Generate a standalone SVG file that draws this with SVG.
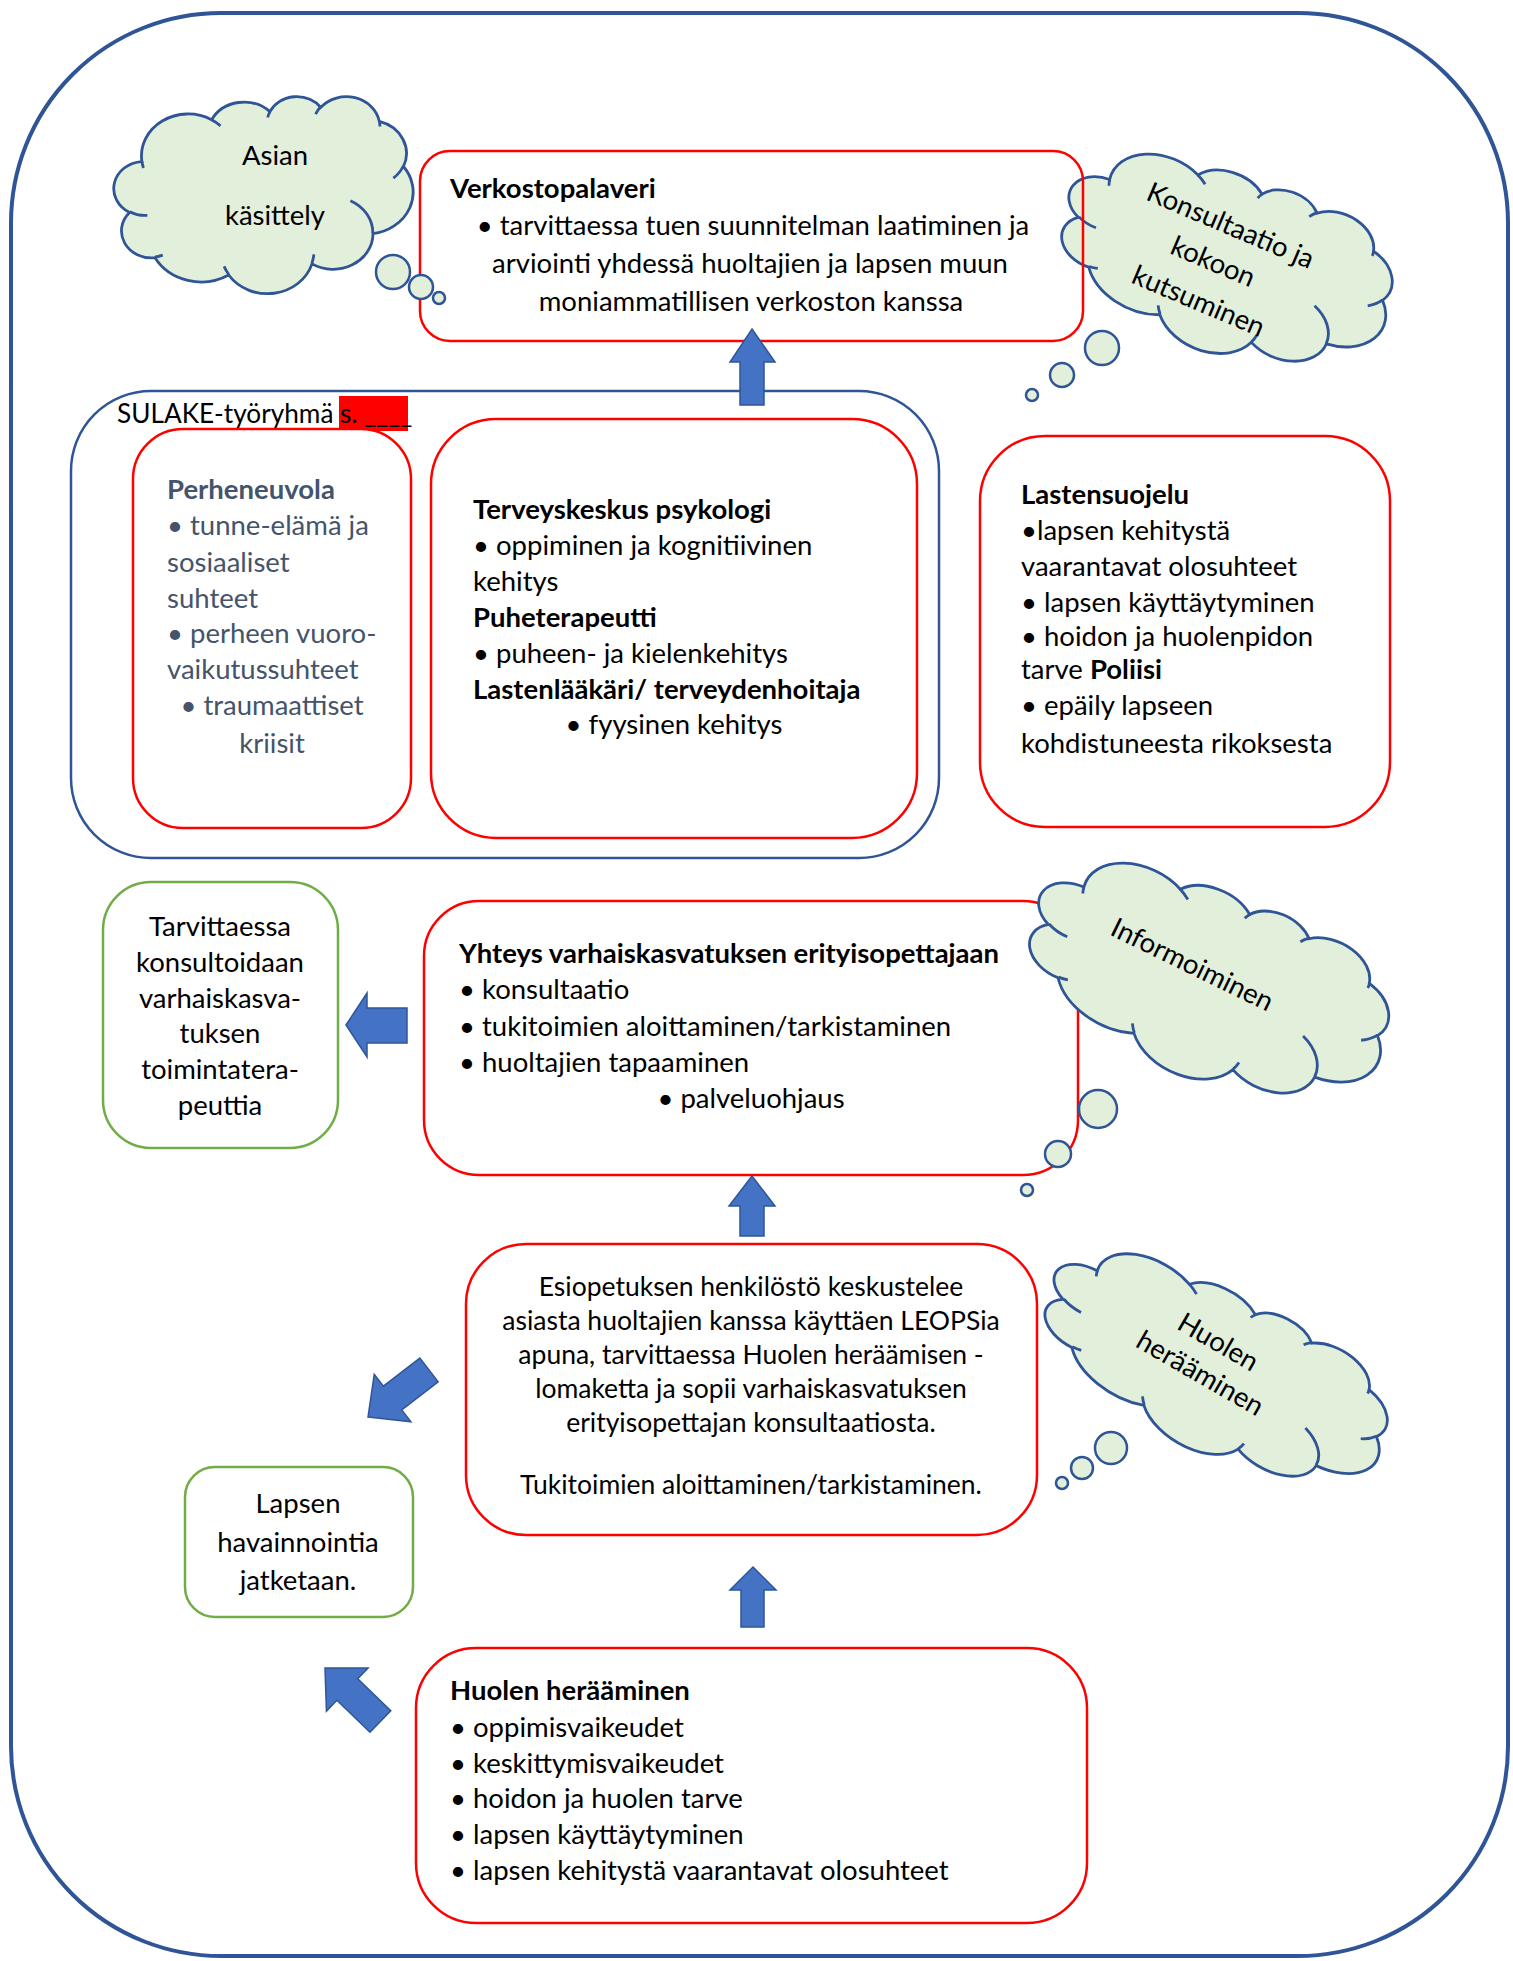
<svg xmlns="http://www.w3.org/2000/svg" width="1513" height="1961" viewBox="0 0 1513 1961">
<style>
.frame{fill:none;stroke:#2F5597;stroke-width:4}
.grp{fill:none;stroke:#2F5597;stroke-width:2.5}
.red{fill:#fff;stroke:#FF0000;stroke-width:2.5}
.redn{fill:none;stroke:#FF0000;stroke-width:2.5}
.green{fill:#fff;stroke:#70AD47;stroke-width:2.5}
.cloud{fill:#E2EFDA;stroke:#2F5597;stroke-width:2.8;vector-effect:non-scaling-stroke}
.crease{fill:none;stroke:#2F5597;stroke-width:2.8;vector-effect:non-scaling-stroke}
.bub{fill:#E2EFDA;stroke:#2F5597;stroke-width:2.5}
.arr{fill:#4472C4;stroke:#2F5597;stroke-width:1.5}
text{font-family:Lato,"Noto Sans",sans-serif;font-size:27.5px;fill:#000}
.b{font-weight:bold}
.m{text-anchor:middle}
.s{fill:#44546A}
.lbl{font-size:26.2px}
.es{font-size:26.5px}
</style>
<defs>
<path id="cl" class="cloud" d="M39,143.7 A67.53,91.9 0 0 1 140.05,52.01 A53.33,72.67 0 0 1 224.56,34.31 A43.65,59.45 0 0 1 298.33,24.8 A48.57,65.95 0 0 1 383.19,55.73 A53.33,72.73 0 0 1 418.19,154.56 A67.75,92.2 0 0 1 374.05,302 A57.85,78.67 0 0 1 285.56,368.1 A67.52,92.15 0 0 1 164.81,392.62 A77.2,105.43 0 0 1 58.04,354.67 A43.6,59.18 0 0 1 21.13,255.45 A43.45,59.45 0 0 1 39,143.7 Z"/>
<path id="cr" class="crease" d="M46.93,261.77 A43.45,59.45 0 0 1 21.6,253.8 M69.28,348.99 A43.6,59.18 0 0 1 58.19,352.8 M164.78,390.9 A67.52,92.15 0 0 1 158.1,373.5 M288.27,347.51 A67.52,92.15 0 0 1 285.6,366.61 M341.29,229.54 A57.85,78.67 0 0 1 373.8,300.89 M417.98,153.54 A53.33,72.73 0 0 1 403.5,180.3 M383.24,54.26 A48.57,65.95 0 0 1 384,66.91 M290.78,39.52 A48.57,65.95 0 0 1 298.19,23.4 M221.41,47.2 A43.65,59.45 0 0 1 225,33.3 M140,51.92 A67.53,91.9 0 0 1 153,65.42 M41.27,157.89 A67.53,91.9 0 0 1 39,143.7"/>
<polygon id="darr" class="arr" points="0,0 -31,-30 -31,-15 -77,-15 -77,15 -31,15 -31,30"/>
</defs>

<rect id="outer-frame" class="frame" x="11" y="13" width="1497" height="1943" rx="210"/>

<g id="sulake-group">
<rect class="grp" x="71" y="391" width="868" height="467" rx="80"/>
<text class="lbl" x="117" y="423">SULAKE-työryhmä </text>
<rect x="339" y="396" width="69" height="35" fill="#FF0000"/>
<text class="lbl" x="340" y="423">s. ____</text>
</g>

<g id="cloud-konsultaatio">
<g transform="translate(1226,262) rotate(23) translate(-170,-91) scale(0.787,0.4213)"><use href="#cl"/><use href="#cr"/></g>
<circle class="bub" cx="1102" cy="348" r="17"/>
<circle class="bub" cx="1062" cy="375" r="12"/>
<circle class="bub" cx="1032" cy="395" r="6"/>
<g transform="translate(1213,262) rotate(23)">
<text class="m" x="2" y="-31">Konsultaatio ja</text>
<text class="m" x="0" y="9">kokoon</text>
<text class="m" x="2" y="51">kutsuminen</text>
</g>
</g>

<g id="node-verkostopalaveri">
<rect class="redn" x="420" y="151" width="663" height="190" rx="30"/>
<text class="b" x="450" y="198">Verkostopalaveri</text>
<text class="m" x="753" y="235">• tarvittaessa tuen suunnitelman laatiminen ja</text>
<text class="m" x="750" y="273">arviointi yhdessä huoltajien ja lapsen muun</text>
<text class="m" x="751" y="311">moniammatillisen verkoston kanssa</text>
</g>

<g id="cloud-asian">
<g transform="translate(115,96) scale(0.6898,0.456)"><use href="#cl"/><use href="#cr"/></g>
<circle class="bub" cx="393" cy="272" r="17"/>
<circle class="bub" cx="421" cy="287" r="12"/>
<circle class="bub" cx="439" cy="298" r="6"/>
<text class="m" x="275" y="165">Asian</text>
<text class="m" x="275" y="225">käsittely</text>
</g>

<g id="node-perheneuvola">
<rect class="red" x="133" y="429" width="278" height="399" rx="50"/>
<text class="b s" x="167" y="499">Perheneuvola</text>
<text class="s" x="167" y="535">• tunne-elämä ja</text>
<text class="s" x="167" y="572">sosiaaliset</text>
<text class="s" x="167" y="608">suhteet</text>
<text class="s" x="167" y="643">• perheen vuoro-</text>
<text class="s" x="167" y="679">vaikutussuhteet</text>
<text class="s m" x="272" y="715">• traumaattiset</text>
<text class="s m" x="272" y="753">kriisit</text>
</g>

<g id="node-terveyskeskus">
<rect class="red" x="431" y="419" width="486" height="419" rx="65"/>
<text class="b" x="473" y="519">Terveyskeskus psykologi</text>
<text x="473" y="555">• oppiminen ja kognitiivinen</text>
<text x="473" y="591">kehitys</text>
<text class="b" x="473" y="627">Puheterapeutti</text>
<text x="473" y="663">• puheen- ja kielenkehitys</text>
<text class="b" x="473" y="699">Lastenlääkäri/ terveydenhoitaja</text>
<text class="m" x="674" y="734">• fyysinen kehitys</text>
</g>

<g id="node-lastensuojelu">
<rect class="red" x="980" y="436" width="410" height="391" rx="65"/>
<text class="b" x="1021" y="504">Lastensuojelu</text>
<text x="1021" y="540">•lapsen kehitystä</text>
<text x="1021" y="576">vaarantavat olosuhteet</text>
<text x="1021" y="612">• lapsen käyttäytyminen</text>
<text x="1021" y="646">• hoidon ja huolenpidon</text>
<text x="1021" y="679">tarve <tspan class="b">Poliisi</tspan></text>
<text x="1021" y="715">• epäily lapseen</text>
<text x="1021" y="753">kohdistuneesta rikoksesta</text>
</g>

<g id="node-tarvittaessa">
<rect class="green" x="103" y="882" width="235" height="266" rx="48"/>
<text class="m" x="220" y="936">Tarvittaessa</text>
<text class="m" x="220" y="972">konsultoidaan</text>
<text class="m" x="220" y="1008">varhaiskasva-</text>
<text class="m" x="220" y="1043">tuksen</text>
<text class="m" x="220" y="1079">toimintatera-</text>
<text class="m" x="220" y="1115">peuttia</text>
</g>

<g id="node-yhteys">
<rect class="red" x="424" y="901" width="654" height="274" rx="55"/>
<text class="b" x="459" y="963">Yhteys varhaiskasvatuksen erityisopettajaan</text>
<text x="459" y="999">• konsultaatio</text>
<text x="459" y="1036">• tukitoimien aloittaminen/tarkistaminen</text>
<text x="459" y="1072">• huoltajien tapaaminen</text>
<text class="m" x="751" y="1108">• palveluohjaus</text>
</g>

<g id="cloud-informoiminen">
<g transform="translate(1208,983) rotate(26) translate(-187.5,-95) scale(0.868,0.44)"><use href="#cl"/><use href="#cr"/></g>
<circle class="bub" cx="1098" cy="1109" r="19"/>
<circle class="bub" cx="1058" cy="1154" r="13"/>
<circle class="bub" cx="1027" cy="1190" r="6"/>
<g transform="translate(1192,965) rotate(26)"><text class="m" x="0" y="9">Informoiminen</text></g>
</g>

<g id="node-esiopetus">
<rect class="red" x="466" y="1244" width="571" height="291" rx="60"/>
<text class="m es" x="751" y="1296">Esiopetuksen henkilöstö keskustelee</text>
<text class="m es" x="751" y="1330">asiasta huoltajien kanssa käyttäen LEOPSia</text>
<text class="m es" x="751" y="1364">apuna, tarvittaessa Huolen heräämisen -</text>
<text class="m es" x="751" y="1398">lomaketta ja sopii varhaiskasvatuksen</text>
<text class="m es" x="751" y="1432">erityisopettajan konsultaatiosta.</text>
<text class="m es" x="751" y="1494">Tukitoimien aloittaminen/tarkistaminen.</text>
</g>

<g id="cloud-huolen">
<g transform="translate(1215,1370) rotate(30) translate(-185,-81) scale(0.8565,0.375)"><use href="#cl"/><use href="#cr"/></g>
<circle class="bub" cx="1111" cy="1448" r="16"/>
<circle class="bub" cx="1082" cy="1468" r="11"/>
<circle class="bub" cx="1062" cy="1483" r="6"/>
<g transform="translate(1209,1358) rotate(30)">
<text class="m" x="0" y="-9">Huolen</text>
<text class="m" x="0" y="27">herääminen</text>
</g>
</g>

<g id="node-lapsen">
<rect class="green" x="185" y="1467" width="228" height="150" rx="30"/>
<text class="m" x="298" y="1513">Lapsen</text>
<text class="m" x="298" y="1552">havainnointia</text>
<text class="m" x="298" y="1590">jatketaan.</text>
</g>

<g id="node-huolen">
<rect class="red" x="416" y="1648" width="671" height="275" rx="60"/>
<text class="b" x="450" y="1700">Huolen herääminen</text>
<text x="450" y="1737">• oppimisvaikeudet</text>
<text x="450" y="1773">• keskittymisvaikeudet</text>
<text x="450" y="1808">• hoidon ja huolen tarve</text>
<text x="450" y="1844">• lapsen käyttäytyminen</text>
<text x="450" y="1880">• lapsen kehitystä vaarantavat olosuhteet</text>
</g>

<g id="connectors">
<polygon class="arr" points="752,329 775,362 764,362 764,405 740,405 740,362 730,362"/>
<polygon class="arr" points="752,1176 775,1206 764,1206 764,1236 740,1236 740,1206 729,1206"/>
<polygon class="arr" points="753,1567 776,1590 764,1590 764,1627 741,1627 741,1590 730,1590"/>
<polygon class="arr" points="346,1025 367,993 367,1008 407,1008 407,1043 367,1043 367,1057"/>
<use href="#darr" transform="translate(368,1417) rotate(142.4)"/>
<use href="#darr" transform="translate(325,1668) rotate(-136)"/>
</g>
</svg>
